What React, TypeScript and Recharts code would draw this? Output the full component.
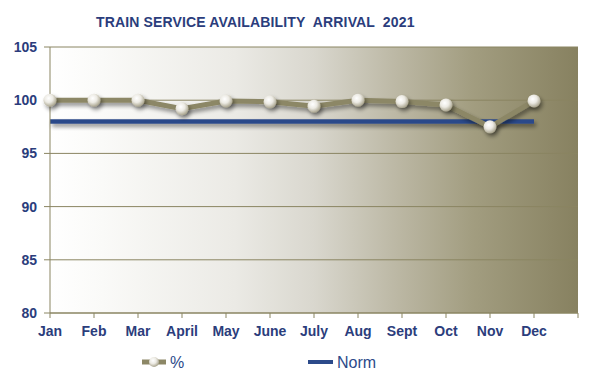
import React from 'react';
import { LineChart, Line, XAxis, YAxis, CartesianGrid, Legend } from 'recharts';

const months = ['Jan', 'Feb', 'Mar', 'April', 'May', 'June', 'July', 'Aug', 'Sept', 'Oct', 'Nov', 'Dec', ''];
const pctValues: (number | null)[] = [100, 100, 100, 99.2, 99.93, 99.85, 99.44, 100, 99.87, 99.56, 97.5, 99.93, null];
const normValues: (number | null)[] = [98, 98, 98, 98, 98, 98, 98, 98, 98, 98, 98, 98, null];
const yTicks = [80, 85, 90, 95, 100, 105];

const data = months.map((m, i) => ({ m, pct: pctValues[i], norm: normValues[i] }));

const OLIVE = '#8a8562';
const LINE_OLIVE = '#8c8766';
const NAVY = '#2b3d7c';
const BLUE = '#2c4a8a';

const LegendContent = () => (
  <svg width={598} height={31} style={{ display: 'block' }}>
    <defs>
      <radialGradient id="ballLeg" cx="40%" cy="35%" r="65%">
        <stop offset="0" stopColor="#ffffff" />
        <stop offset="0.5" stopColor="#eceae3" />
        <stop offset="1" stopColor="#aaa58f" />
      </radialGradient>
    </defs>
    <line x1={142} x2={166} y1={19} y2={19} stroke={LINE_OLIVE} strokeWidth={5} />
    <circle cx={154} cy={19} r={5} fill="url(#ballLeg)" />
    <text x={170} y={25} fontFamily="Liberation Sans, Arial, sans-serif" fontSize={16} fill={BLUE}>%</text>
    <line x1={308} x2={333} y1={19} y2={19} stroke={BLUE} strokeWidth={4} />
    <text x={337} y={25} fontFamily="Liberation Sans, Arial, sans-serif" fontSize={16} fill={BLUE}>Norm</text>
  </svg>
);

export default function App() {
  return (
    <div style={{ position: 'absolute', left: 0, top: 0, width: 598, height: 374, background: '#fff' }}>
      <div
        style={{
          position: 'absolute',
          left: 96,
          top: 14,
          fontFamily: 'Liberation Sans, Arial, sans-serif',
          fontWeight: 'bold',
          fontSize: 14,
          lineHeight: '16px',
          color: NAVY,
          whiteSpace: 'pre',
          letterSpacing: 0.15,
        }}
      >
        {'TRAIN SERVICE AVAILABILITY  ARRIVAL  2021'}
      </div>
      <LineChart width={598} height={374} data={data} margin={{ top: 47, right: 20, bottom: 0, left: 0 }}>
        <defs>
          <linearGradient id="bg" x1="0" y1="0" x2="1" y2="0">
            <stop offset="0" stopColor="#ffffff" />
            <stop offset="0.1" stopColor="#fafaf8" />
            <stop offset="0.35" stopColor="#ebeae5" />
            <stop offset="0.5" stopColor="#d9d7ce" />
            <stop offset="0.65" stopColor="#bdb9a6" />
            <stop offset="0.8" stopColor="#a29d80" />
            <stop offset="1" stopColor="#878160" />
          </linearGradient>
          <radialGradient id="ball" cx="40%" cy="35%" r="65%">
            <stop offset="0" stopColor="#ffffff" />
            <stop offset="0.5" stopColor="#eceae3" />
            <stop offset="1" stopColor="#aaa58f" />
          </radialGradient>
          <filter id="shadow" filterUnits="userSpaceOnUse" x="0" y="0" width="598" height="374">
            <feGaussianBlur in="SourceAlpha" stdDeviation="2" />
            <feOffset dx="2" dy="3" result="ob" />
            <feComponentTransfer>
              <feFuncA type="linear" slope="0.45" />
            </feComponentTransfer>
            <feMerge>
              <feMergeNode />
              <feMergeNode in="SourceGraphic" />
            </feMerge>
          </filter>
        </defs>
        <CartesianGrid vertical={false} stroke={OLIVE} strokeWidth={1} fill="url(#bg)" fillOpacity={1} />
        <XAxis
          dataKey="m"
          type="category"
          interval={0}
          height={30}
          axisLine={{ stroke: OLIVE }}
          tickLine={{ stroke: OLIVE }}
          tickSize={5}
          tickMargin={8}
          tick={{ fill: NAVY, fontSize: 14, fontWeight: 'bold', fontFamily: 'Liberation Sans, Arial, sans-serif' }}
        />
        <YAxis
          domain={[80, 105]}
          ticks={yTicks}
          width={50}
          interval={0}
          axisLine={{ stroke: OLIVE }}
          tickLine={{ stroke: OLIVE }}
          tickSize={6}
          tickMargin={7}
          tick={{ fill: NAVY, fontSize: 14, fontWeight: 'bold', fontFamily: 'Liberation Sans, Arial, sans-serif' }}
        />
        <Legend verticalAlign="bottom" content={<LegendContent />} wrapperStyle={{ height: 31 }} />
        <Line
          dataKey="norm"
          name="Norm"
          stroke={BLUE}
          strokeWidth={4.5}
          dot={false}
          activeDot={false}
          isAnimationActive={false}
          filter="url(#shadow)"
        />
        <Line
          dataKey="pct"
          name="%"
          stroke={LINE_OLIVE}
          strokeWidth={5}
          dot={{ r: 6.5, fill: 'url(#ball)', stroke: 'none', strokeWidth: 0 }}
          activeDot={false}
          isAnimationActive={false}
          filter="url(#shadow)"
        />
      </LineChart>
    </div>
  );
}
